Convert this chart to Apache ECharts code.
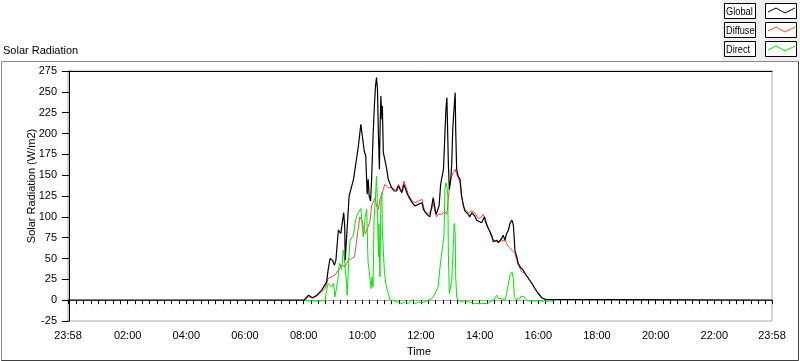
<!DOCTYPE html>
<html>
<head>
<meta charset="utf-8">
<title>Solar Radiation</title>
<script src="https://cdn.jsdelivr.net/npm/echarts@6/dist/echarts.min.js"></script>
<style>
  html, body { margin: 0; padding: 0; background: #fff; }
  #chart { width: 800px; height: 361px; }
</style>
</head>
<body>
<div id="chart"></div>
<script>
// axis runs from 23:58 of the day before to 23:58
var axisStart = -2;
var axisEnd = 1438;
var labelTimes = [-2, 120, 240, 360, 480, 600, 720, 840, 960, 1080, 1200, 1320, 1438];
var yTicks = { min: -25, max: 275, step: 25 };

// Global (W/m2), first entry is 23:58 of the day before
var globalTimes = ['23:58','08:01','08:10','08:18','08:27','08:37','08:47','08:50','08:54','08:59','09:03','09:06','09:11','09:14','09:16','09:22','09:24','09:25','09:29','09:33','09:42','09:52','09:57','10:00','10:04','10:07','10:10','10:12','10:14','10:17','10:19','10:22','10:25','10:27','10:29','10:31','10:33','10:35','10:36','10:38','10:40','10:41','10:43','10:46','10:50','10:53','10:57','11:00','11:05','11:10','11:14','11:17','11:21','11:25','11:27','11:31','11:34','11:38','11:42','11:48','11:55','12:02','12:05','12:12','12:18','12:22','12:25','12:29','12:31','12:34','12:37','12:40','12:42','12:46','12:48','12:51','12:53','12:55','12:56','12:58','13:01','13:03','13:05','13:08','13:10','13:11','13:13','13:16','13:20','13:23','13:27','13:30','13:37','13:40','13:44','13:47','13:50','13:54','13:57','14:04','14:10','14:12','14:16','14:21','14:25','14:28','14:31','14:35','14:38','14:42','14:45','14:48','14:52','14:55','14:59','15:02','15:06','15:09','15:11','15:12','15:16','15:19','15:23','15:26','15:29','15:33','15:40','15:47','15:53','16:00','16:07','16:14','16:17','23:58'];
var globalValues = [0,0,6,3,6,12,22,36,50,48,42,48,84,86,80,105,88,48,48,125,145,185,211,197,179,173,127,145,125,119,145,197,237,257,267,253,197,157,197,245,217,233,177,169,157,145,139,135,131,131,137,133,129,139,141,129,125,121,117,113,115,117,109,103,100,113,123,109,103,105,113,137,145,157,185,229,243,245,165,133,145,165,205,233,249,205,157,149,145,125,113,107,103,100,105,107,101,96,94,93,100,94,88,82,76,70,68,72,69,70,74,78,72,80,84,92,96,90,72,60,52,44,40,38,36,32,26,20,14,8,3,1,0,0];

// Diffuse
var diffuseTimes = ['08:01','08:10','08:18','08:27','08:37','08:44','08:50','08:57','09:04','09:11','09:18','09:25','09:28','09:31','09:38','09:44','09:48','09:52','09:55','09:59','10:02','10:06','10:09','10:12','10:16','10:19','10:22','10:26','10:29','10:33','10:36','10:40','10:43','10:46','10:50','10:53','10:57','11:00','11:05','11:10','11:14','11:17','11:21','11:25','11:27','11:31','11:34','11:42','11:48','11:55','12:02','12:05','12:08','12:15','12:22','12:25','12:29','12:32','12:35','12:39','12:42','12:46','12:49','12:53','12:56','12:59','13:03','13:06','13:10','13:13','13:16','13:20','13:23','13:27','13:30','13:37','13:44','13:47','13:50','13:57','14:04','14:07','14:11','14:18','14:25','14:28','14:31','14:38','14:45','14:52','14:55','14:59','15:06','15:09','15:12','15:16','15:19','15:26','15:33','15:40','15:47','15:53','16:00','16:07','16:14','16:17','16:30'];
var diffuseValues = [0,4,3,5,10,14,26,28,30,36,42,40,42,48,50,52,70,88,100,96,88,80,78,88,96,113,117,123,113,109,121,127,133,139,137,135,137,135,133,133,139,135,131,143,144,133,127,119,117,119,121,113,106,103,109,117,106,100,103,102,103,102,106,103,121,141,149,153,157,151,147,141,125,113,109,105,107,109,105,98,100,103,98,86,78,72,70,70,71,72,68,64,60,58,56,48,42,34,32,26,20,14,8,3,1,0,0];

// Direct
var directTimes = ['08:00','08:13','08:34','08:44','08:47','08:50','08:54','08:57','09:01','09:04','09:06','09:10','09:12','09:14','09:18','09:21','09:23','09:25','09:27','09:29','09:31','09:33','09:35','09:42','09:45','09:48','09:52','09:55','09:57','10:00','10:02','10:06','10:09','10:11','10:12','10:14','10:16','10:18','10:20','10:22','10:24','10:27','10:29','10:31','10:33','10:34','10:36','10:38','10:40','10:41','10:43','10:45','10:48','10:50','10:53','10:57','11:00','11:07','11:14','11:21','11:27','11:34','11:41','11:48','11:55','12:02','12:08','12:15','12:22','12:29','12:35','12:39','12:42','12:44','12:47','12:49','12:51','12:53','12:55','12:56','12:58','13:00','13:03','13:06','13:08','13:10','13:11','13:13','13:16','13:23','13:30','13:37','13:44','13:50','14:04','14:16','14:21','14:28','14:31','14:35','14:38','14:42','14:45','14:48','14:52','14:55','14:59','15:02','15:06','15:09','15:11','15:14','15:22','15:25','15:27','15:31','15:36','15:43','16:30'];
var directValues = [0,-1,-1,0,12,20,22,16,20,4,6,24,40,44,37,60,52,36,28,6,4,56,72,78,92,100,105,107,110,88,76,100,109,60,44,36,24,14,28,16,96,125,149,109,52,92,28,117,129,84,60,36,20,14,12,0,-2,-1,-3,-4,-2,-4,0,-4,-2,-3,-2,0,2,8,16,40,40,64,76,133,141,137,125,56,8,6,24,64,92,80,28,4,0,-2,0,-2,-3,-4,-4,-4,-2,0,2,6,2,4,2,4,0,8,20,30,34,26,4,1,2,5,3,4,0,-1,-1];

function toMin(s, i) {
    var p = s.split(':');
    var m = (+p[0]) * 60 + (+p[1]);
    if (i === 0 && m > 720) m -= 1440; // day before
    return m;
}

function pairs(times, values) {
    return times.map(function (t, i) { return [toMin(t, i), values[i]]; });
}

function fmt(v) {
    var m = v < 0 ? v + 1440 : v;
    var h = Math.floor(m / 60), mm = m % 60;
    return (h < 10 ? '0' : '') + h + ':' + (mm < 10 ? '0' : '') + mm;
}

var minorTicks = [axisStart];
for (var t = 0; t < axisEnd; t += 15) minorTicks.push(t);
minorTicks.push(axisEnd);

var FONT = 'Liberation Sans';
var chart = echarts.init(document.getElementById('chart'), null, { renderer: 'canvas' });

// legend box, LabVIEW style
function legendRow(y, label, color) {
    return [
        { type: 'rect', shape: { x: 724.5, y: y + 0.5, width: 31, height: 15 },
          style: { fill: '#fff', stroke: '#000', lineWidth: 1 } },
        { type: 'text', x: 726, y: y + 8.5, scaleX: 0.84,
          style: { text: label, font: '11px ' + FONT, fill: '#000', verticalAlign: 'middle' } },
        { type: 'rect', shape: { x: 765.5, y: y + 0.5, width: 31, height: 15 },
          style: { fill: '#fff', stroke: '#000', lineWidth: 1 } },
        { type: 'polyline', shape: { points: [[768, y + 9], [776, y + 5], [785, y + 10], [795, y + 5]] },
          style: { stroke: color, lineWidth: 1, fill: null } }
    ];
}

var graphics = [
    { type: 'rect', shape: { x: 722, y: 0, width: 78, height: 61 }, style: { fill: '#f0f0f0' }, z: -1 },
    { type: 'polyline', shape: { points: [[1.5, 361], [1.5, 61.5], [798.5, 61.5]] },
      style: { stroke: '#8a8a8a', lineWidth: 1, fill: null } },
    { type: 'polyline', shape: { points: [[798.5, 61.5], [798.5, 360.5], [1.5, 360.5]] },
      style: { stroke: '#404040', lineWidth: 1, fill: null } },
    { type: 'text', x: 3, y: 51,
      style: { text: 'Solar Radiation', font: '11px ' + FONT, fill: '#000', verticalAlign: 'middle' } },
    { type: 'text', x: 32, y: 186, rotation: Math.PI / 2,
      style: { text: 'Solar Radiation (W/m2)', font: '11px ' + FONT, fill: '#000', align: 'center', verticalAlign: 'middle' } },
    { type: 'text', x: 419, y: 352,
      style: { text: 'Time', font: '11px ' + FONT, fill: '#000', align: 'center', verticalAlign: 'middle' } }
]
    .concat(legendRow(3, 'Global', '#000'))
    .concat(legendRow(22, 'Diffuse', '#ff4040'))
    .concat(legendRow(41, 'Direct', '#00e800'));

chart.setOption({
    animation: false,
    backgroundColor: '#fff',
    grid: { left: 68, right: 28, top: 71, bottom: 40, show: true, borderColor: '#a8a8a8', borderWidth: 1 },
    xAxis: [{
        type: 'value', min: axisStart, max: axisEnd, position: 'bottom',
        axisLine: { show: true, lineStyle: { color: '#a8a8a8' } },
        axisTick: { show: true, inside: false, length: 4, customValues: minorTicks, lineStyle: { color: '#000' } },
        axisLabel: { customValues: labelTimes, formatter: fmt, margin: 9, color: '#000', fontSize: 11, fontFamily: FONT },
        splitLine: { show: false }
    }, {
        type: 'value', min: axisStart, max: axisEnd, position: 'top',
        axisLine: { show: true, lineStyle: { color: '#000' } },
        axisTick: { show: false }, axisLabel: { show: false }, splitLine: { show: false }
    }],
    yAxis: {
        type: 'value', min: yTicks.min, max: yTicks.max, interval: yTicks.step,
        axisLine: { show: true, lineStyle: { color: '#000' } },
        axisTick: { show: true, length: 7, lineStyle: { color: '#000' } },
        axisLabel: { margin: 11, color: '#000', fontSize: 11, fontFamily: FONT },
        splitLine: { show: false }
    },
    series: [
        { name: 'Diffuse', type: 'line', data: pairs(diffuseTimes, diffuseValues), symbol: 'none',
          lineStyle: { color: '#ff4040', width: 1 } },
        { name: 'Direct', type: 'line', data: pairs(directTimes, directValues), symbol: 'none',
          lineStyle: { color: '#00e800', width: 1 } },
        { name: 'Global', type: 'line', data: pairs(globalTimes, globalValues), symbol: 'none',
          lineStyle: { color: '#000', width: 1.2 } }
    ],
    graphic: graphics
});
</script>
</body>
</html>
